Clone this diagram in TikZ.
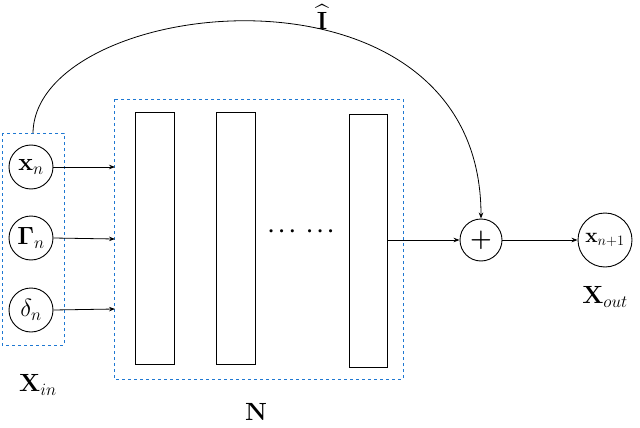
\documentclass[tikz,border=0pt]{standalone}
\usepackage{amsmath}
\usetikzlibrary{arrows.meta}
\begin{document}
\begin{tikzpicture}[x=1pt,y=-1pt,
  blu/.style={draw={rgb,255:red,30;green,120;blue,210},dashed,line width=1pt},
  circ/.style={circle,draw,line width=0.9pt,minimum size=44pt,inner sep=0pt,font=\fontsize{24}{26}\selectfont},
  bar/.style={draw,line width=1pt},
  arr/.style={-{Stealth[length=6pt]},line width=0.8pt},
  lab/.style={font=\fontsize{26}{28}\selectfont}]
\useasboundingbox (0,0) rectangle (640,428);
\draw[blu] (2,133) rectangle (64,345);
\draw[blu] (114,99) rectangle (403,379);
\node[circ] (xn) at (31,167) {$\mathbf{x}_n$};
\node[circ] (gn) at (31,238) {$\mathbf{\Gamma}_n$};
\node[circ] (dn) at (31,310) {$\delta_n$};
\draw[bar] (135,112) rectangle (174,364);
\draw[bar] (216,112) rectangle (255,364);
\draw[bar] (349,114) rectangle (387,367);
\coordinate (r3) at (387,240);
\node at (303,232) {\fontsize{22}{24}\selectfont $\boldsymbol{\cdots\ \cdots}$};
\coordinate (a1) at (115,167);
\coordinate (a2) at (115,239);
\coordinate (a3) at (115,309);
\draw[arr] (xn.east) -- (a1);
\draw[arr] (gn.east) -- (a2);
\draw[arr] (dn.east) -- (a3);
\node[circ,minimum size=42pt,font=\fontsize{34}{34}\selectfont] (plus) at (481,240) {$\boldsymbol{+}$};
\node[circ,minimum size=54pt,font=\fontsize{20}{22}\selectfont] (out) at (605,240) {$\mathbf{x}_{n+1}$};
\draw[arr] (r3) -- (plus.west);
\draw[arr] (plus.east) -- (out.west);
\coordinate (top) at (33,133);
\draw[arr] (top) .. controls (35,-5) and (481,-55) .. (plus.north);
\node[lab] at (322,17) {$\widehat{\mathbf{I}}$};
\node[lab] at (38,385) {$\mathbf{X}_{in}$};
\node[lab] at (256,412) {$\mathbf{N}$};
\node[lab] at (605,297) {$\mathbf{X}_{out}$};
\end{tikzpicture}
\end{document}
